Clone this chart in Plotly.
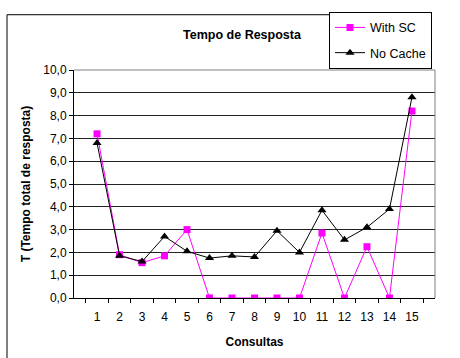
import plotly.graph_objects as go

# Query index and response times (seconds)
consultas = [str(i) for i in range(1, 16)]
with_sc = [7.2, 1.9, 1.55, 1.85, 3.0, 0.0, 0.0, 0.0, 0.0, 0.0, 2.85, 0.0, 2.25, 0.0, 8.2]
no_cache = [6.8, 1.85, 1.6, 2.7, 2.05, 1.75, 1.85, 1.8, 2.95, 2.0, 3.85, 2.55, 3.1, 3.9, 8.8]

FONT = "Liberation Sans, Arial, sans-serif"

fig = go.Figure()
fig.add_trace(go.Scatter(
    x=consultas, y=with_sc, name="With SC", mode="lines+markers",
    line=dict(color="#FF00FF", width=1),
    marker=dict(symbol="square", size=7, color="#FF00FF"),
    legendgroup="a",
))
fig.add_trace(go.Scatter(
    x=consultas, y=no_cache, name="No Cache", mode="lines+markers",
    line=dict(color="#000000", width=1),
    marker=dict(symbol="triangle-up", size=8, color="#000000"),
    legendgroup="b",
))

W, H = 460, 358
L, R, T, B = 74, 25, 67, 60
pw, ph = W - L - R, H - T - B

def px_x(p):
    return (p - L) / pw

def px_y(p):
    return (H - B - p) / ph

fig.update_layout(
    width=W, height=H,
    margin=dict(l=L, r=R, t=T, b=B),
    paper_bgcolor="white", plot_bgcolor="white",
    separators=",.",
    font=dict(family=FONT, size=12, color="black"),
    title=dict(text="<b>Tempo de Resposta</b>", font=dict(size=12.5),
               xref="container", x=242 / W, xanchor="center",
               yref="container", y=1 - 35 / H, yanchor="middle"),
    showlegend=True,
    legend=dict(x=px_x(329), y=px_y(8), xanchor="left", yanchor="top",
                bgcolor="white", bordercolor="black", borderwidth=1,
                font=dict(size=12.5), tracegroupgap=6, itemwidth=30,
                entrywidth=110, entrywidthmode="pixels"),
    xaxis=dict(type="category", tickson="boundaries", ticks="outside",
               tickangle=0, ticklen=4, tickcolor="black", showline=True,
               linecolor="black", linewidth=1, showgrid=False,
               ticklabelstandoff=8,
               title=dict(text="<b>Consultas</b>", font=dict(size=12), standoff=14)),
    yaxis=dict(range=[0, 10], dtick=1, tickformat=".1f", ticks="outside",
               ticklen=4, tickcolor="black", showline=True, linecolor="black",
               linewidth=1, showgrid=True, gridcolor="#222222", gridwidth=1,
               zeroline=False,
               title=dict(text="<b>T (Tempo total de resposta)</b>", font=dict(size=12),
                          standoff=10)),
    shapes=[
        # plot area frame, top and right sides
        dict(type="line", xref="paper", yref="paper", x0=0, x1=1, y0=1, y1=1,
             line=dict(color="#808080", width=1), layer="above"),
        dict(type="line", xref="paper", yref="paper", x0=1, x1=1, y0=0, y1=1,
             line=dict(color="#808080", width=1), layer="above"),
        # chart border
        dict(type="line", xref="paper", yref="paper", x0=px_x(7), x1=px_x(7),
             y0=px_y(11), y1=px_y(370), line=dict(color="black", width=1)),
        dict(type="line", xref="paper", yref="paper", x0=px_x(7), x1=px_x(329),
             y0=px_y(11), y1=px_y(11), line=dict(color="black", width=1)),
    ],
)

fig.write_html("out.html")
